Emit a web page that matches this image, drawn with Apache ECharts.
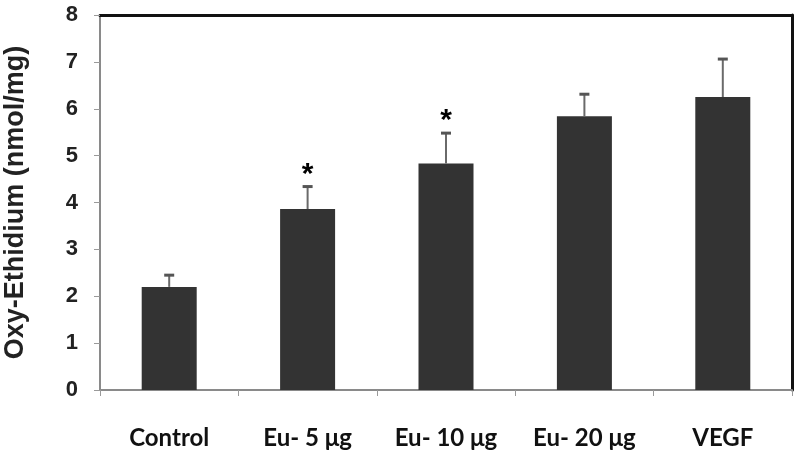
<!DOCTYPE html>
<html>
<head>
<meta charset="utf-8">
<script src="https://cdn.jsdelivr.net/npm/echarts@6/dist/echarts.min.js"></script>
<style>
  html, body { margin: 0; padding: 0; background: #fff; }
  #chart { width: 800px; height: 458px; }
</style>
</head>
<body>
<div id="chart"></div>
<script>
// data
var groups = ['Control', 'Eu- 5 μg', 'Eu- 10 μg', 'Eu- 20 μg', 'VEGF'];
var means = [2.2, 3.86, 4.83, 5.84, 6.25];
var errUp = [0.25, 0.48, 0.65, 0.47, 0.81];
var marks = ['', '*', '*', '', ''];
var yTicks = [0, 1, 2, 3, 4, 5, 6, 7, 8];

var chart = echarts.init(document.getElementById('chart'));

var errData = groups.map(function (g, i) {
  return [i, means[i], means[i] + errUp[i], marks[i]];
});

var option = {
  animation: false,
  grid: { left: 100, right: 8, top: 15, bottom: 68, outerBoundsMode: 'none', containLabel: false },
  xAxis: [{
    type: 'category',
    data: groups,
    boundaryGap: true,
    axisLine: { onZero: false, lineStyle: { color: '#8a8a8a', width: 2 } },
    axisTick: { show: true, length: 6, lineStyle: { color: '#9a9a9a', width: 1 } },
    axisLabel: {
      margin: 36, fontSize: 24, color: '#111',
      fontFamily: 'Lato', fontWeight: 'bold'
    }
  }, {
    type: 'category',
    data: groups,
    position: 'top',
    axisLine: { show: true, onZero: false, lineStyle: { color: '#111', width: 3 } },
    axisTick: { show: false },
    axisLabel: { show: false }
  }],
  yAxis: [{
    type: 'value',
    min: yTicks[0],
    max: yTicks[yTicks.length - 1],
    interval: 1,
    name: 'Oxy-Ethidium (nmol/mg)',
    nameLocation: 'middle',
    nameGap: 71,
    nameTextStyle: { fontSize: 27, fontWeight: 'bold', color: '#222', fontFamily: 'Liberation Sans' },
    axisLine: { show: true, onZero: false, lineStyle: { color: '#8a8a8a', width: 2 } },
    axisTick: { show: true, length: 6, lineStyle: { color: '#9a9a9a', width: 1 } },
    axisLabel: { margin: 22, fontSize: 22, fontWeight: 'bold', color: '#222', fontFamily: 'Liberation Sans' },
    splitLine: { show: false }
  }, {
    type: 'value',
    min: 0, max: 8, interval: 1,
    position: 'right',
    axisLine: { show: true, onZero: false, lineStyle: { color: '#111', width: 3 } },
    axisTick: { show: false },
    axisLabel: { show: false },
    splitLine: { show: false }
  }],
  series: [{
    type: 'bar',
    data: means,
    barWidth: 55,
    itemStyle: { color: '#333333' }
  }, {
    type: 'custom',
    data: errData,
    z: 5,
    renderItem: function (params, api) {
      var x = api.value(0);
      var lo = api.coord([x, api.value(1)]);
      var hi = api.coord([x, api.value(2)]);
      var cap = 5;
      var children = [{
        type: 'line',
        shape: { x1: lo[0], y1: lo[1], x2: hi[0], y2: hi[1] },
        style: { stroke: '#6a6a6a', lineWidth: 2 }
      }, {
        type: 'line',
        shape: { x1: hi[0] - cap, y1: hi[1], x2: hi[0] + cap, y2: hi[1] },
        style: { stroke: '#555', lineWidth: 3 }
      }];
      var m = marks[params.dataIndex];
      if (m) {
        children.push({
          type: 'text',
          style: {
            text: m, x: hi[0], y: hi[1] + 3,
            align: 'center', verticalAlign: 'bottom',
            fontSize: 30, fontWeight: 'bold', fill: '#000', fontFamily: 'Liberation Sans'
          }
        });
      }
      return { type: 'group', children: children };
    }
  }]
};

chart.setOption(option);
</script>
</body>
</html>
